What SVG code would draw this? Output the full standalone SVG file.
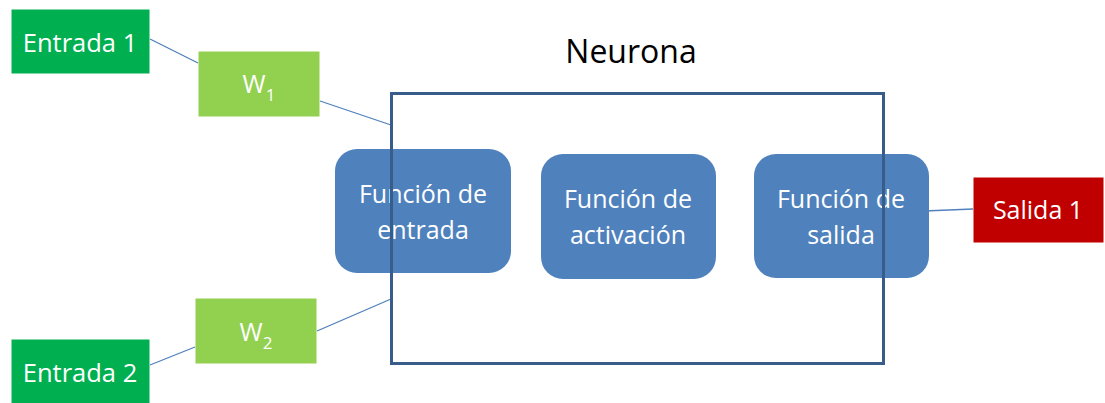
<svg xmlns="http://www.w3.org/2000/svg" width="1105" height="403" viewBox="0 0 1105 403">
<style>
.t{font-family:"Open Sans","Noto Sans","Liberation Sans",sans-serif;fill:#fff;text-anchor:middle}
.in{fill:#00B050;stroke:#fff;stroke-width:1}
.w{fill:#92D050;stroke:#fff;stroke-width:1}
.fn{fill:#4F81BD}
.out{fill:#C00000;stroke:#fff;stroke-width:1}
.c{stroke:#4F81BD;stroke-width:1.3;fill:none}
</style>
<rect width="1105" height="403" fill="#fff"/>
<g id="entrada1"><rect class="in" x="11" y="9" width="139" height="65"/><text class="t" x="80" y="52" font-size="25.5">Entrada 1</text></g>
<g id="entrada2"><rect class="in" x="11" y="339" width="139" height="65"/><text class="t" x="80" y="382" font-size="25.5">Entrada 2</text></g>
<g id="w1"><rect class="w" x="198" y="51" width="122" height="66"/><text class="t" x="259" y="93" font-size="25">W<tspan font-size="17" dy="8">1</tspan></text></g>
<g id="w2"><rect class="w" x="195" y="298" width="122" height="66"/><text class="t" x="256" y="341" font-size="25">W<tspan font-size="17" dy="8">2</tspan></text></g>
<g id="f-entrada"><rect class="fn" x="335" y="149" width="176" height="124" rx="22"/><text class="t" x="423" y="203" font-size="25">Función de</text><text class="t" x="423" y="239" font-size="25">entrada</text></g>
<g id="f-activacion"><rect class="fn" x="541" y="154" width="175" height="125" rx="22"/><text class="t" x="628" y="208" font-size="25">Función de</text><text class="t" x="628" y="244" font-size="25">activación</text></g>
<g id="f-salida"><rect class="fn" x="754" y="154" width="175" height="124" rx="22"/><text class="t" x="841" y="208" font-size="25">Función de</text><text class="t" x="841" y="244" font-size="25">salida</text></g>
<g id="salida1"><rect class="out" x="973" y="177" width="131" height="66"/><text class="t" x="1038" y="219" font-size="25">Salida 1</text></g>
<g id="connectors">
<line class="c" x1="150" y1="39" x2="198" y2="63"/>
<line class="c" x1="320" y1="101" x2="391" y2="125"/>
<line class="c" x1="150" y1="365" x2="195" y2="347"/>
<line class="c" x1="317" y1="331" x2="391" y2="299"/>
<line class="c" x1="827" y1="215" x2="973" y2="209" stroke="#6A95CC"/>
</g>
<g id="neurona"><rect x="391.5" y="93.5" width="492" height="270" fill="none" stroke="#385D8A" stroke-width="3"/><text x="631" y="63" font-family="'Open Sans','Noto Sans','Liberation Sans',sans-serif" font-size="32" text-anchor="middle" fill="#000">Neurona</text></g>
</svg>
